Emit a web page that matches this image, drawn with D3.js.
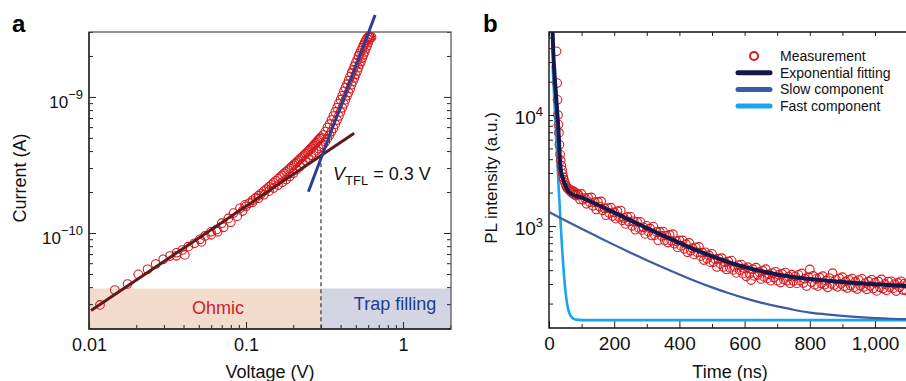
<!DOCTYPE html>
<html>
<head>
<meta charset="utf-8">
<script src="https://cdn.jsdelivr.net/npm/d3@7"></script>
<style>
  body { margin: 0; background: #fff; }
  svg { display: block; font-family: "Liberation Sans", Arial, sans-serif; }
</style>
</head>
<body>
<svg id="chart" width="906" height="381"></svg>
<script>
// ---------- panel a : I-V data (voltage V, current A) ----------
const ivLowBias = [
  [0.01175, 2.96e-11], [0.0146, 3.81e-11], [0.0176, 4.22e-11], [0.0206, 4.97e-11],
  [0.0236, 5.41e-11], [0.0266, 5.92e-11], [0.0297, 6.41e-11], [0.0328, 6.77e-11],
  [0.0362, 7.16e-11], [0.0393, 7.50e-11], [0.0429, 7.94e-11], [0.0469, 8.40e-11],
  [0.0509, 8.99e-11], [0.0548, 9.51e-11], [0.0598, 1.02e-10], [0.065, 1.06e-10],
  [0.07, 1.18e-10], [0.0772, 1.28e-10], [0.0832, 1.40e-10], [0.0915, 1.52e-10],
  [0.0985, 1.61e-10], [0.036, 6.8e-11], [0.0408, 6.9e-11], [0.052, 8.6e-11],
  [0.06, 9.7e-11], [0.066, 1.02e-10], [0.072, 1.10e-10], [0.08, 1.20e-10],
  [0.088, 1.33e-10], [0.095, 1.45e-10]
];
const ivSweepUp = [
  [0.100, 1.57e-10], [0.105, 1.66e-10], [0.110, 1.74e-10], [0.115, 1.81e-10], [0.120, 1.88e-10],
  [0.125, 1.95e-10], [0.130, 2.03e-10], [0.135, 2.10e-10], [0.140, 2.18e-10], [0.145, 2.26e-10],
  [0.150, 2.34e-10], [0.155, 2.42e-10], [0.160, 2.50e-10], [0.165, 2.58e-10], [0.170, 2.66e-10],
  [0.175, 2.74e-10], [0.180, 2.82e-10], [0.185, 2.90e-10], [0.190, 2.98e-10], [0.195, 3.06e-10],
  [0.200, 3.15e-10], [0.205, 3.23e-10], [0.210, 3.31e-10], [0.215, 3.40e-10], [0.220, 3.48e-10],
  [0.225, 3.57e-10], [0.230, 3.66e-10], [0.235, 3.74e-10], [0.240, 3.84e-10], [0.245, 3.93e-10],
  [0.250, 4.01e-10], [0.255, 4.10e-10], [0.260, 4.20e-10], [0.265, 4.30e-10], [0.270, 4.40e-10],
  [0.275, 4.51e-10], [0.280, 4.61e-10], [0.285, 4.72e-10], [0.290, 4.83e-10], [0.295, 4.94e-10],
  [0.300, 5.05e-10], [0.31, 5.25e-10], [0.32, 5.56e-10], [0.33, 5.96e-10], [0.34, 6.31e-10],
  [0.35, 6.76e-10], [0.36, 7.24e-10], [0.37, 7.76e-10], [0.38, 8.32e-10], [0.39, 8.91e-10],
  [0.40, 9.55e-10], [0.41, 1.02e-9], [0.42, 1.10e-9], [0.43, 1.17e-9], [0.44, 1.24e-9],
  [0.45, 1.32e-9], [0.46, 1.41e-9], [0.47, 1.50e-9], [0.48, 1.58e-9], [0.49, 1.68e-9],
  [0.50, 1.78e-9], [0.51, 1.88e-9], [0.52, 2.00e-9], [0.53, 2.09e-9], [0.54, 2.19e-9],
  [0.55, 2.29e-9], [0.56, 2.40e-9], [0.57, 2.51e-9], [0.58, 2.60e-9], [0.59, 2.69e-9],
  [0.60, 2.75e-9], [0.61, 2.79e-9]
];
const ivSweepDown = [
  [0.11, 1.68e-10], [0.12, 1.80e-10], [0.13, 1.91e-10], [0.14, 2.03e-10], [0.15, 2.14e-10],
  [0.16, 2.25e-10], [0.17, 2.36e-10], [0.18, 2.47e-10], [0.19, 2.60e-10], [0.20, 2.75e-10],
  [0.21, 2.92e-10], [0.22, 3.08e-10], [0.23, 3.24e-10], [0.24, 3.40e-10], [0.25, 3.55e-10],
  [0.26, 3.72e-10], [0.27, 3.89e-10], [0.28, 4.03e-10], [0.29, 4.17e-10], [0.30, 4.32e-10],
  [0.31, 4.47e-10], [0.32, 4.68e-10], [0.33, 4.95e-10], [0.34, 5.25e-10], [0.35, 5.56e-10],
  [0.36, 5.89e-10], [0.37, 6.31e-10], [0.38, 6.76e-10], [0.39, 7.24e-10], [0.40, 7.76e-10],
  [0.41, 8.32e-10], [0.42, 8.91e-10], [0.43, 9.55e-10], [0.44, 1.02e-9], [0.45, 1.08e-9],
  [0.46, 1.15e-9], [0.47, 1.23e-9], [0.48, 1.30e-9], [0.49, 1.38e-9], [0.50, 1.46e-9],
  [0.51, 1.55e-9], [0.52, 1.64e-9], [0.53, 1.74e-9], [0.54, 1.82e-9], [0.55, 1.93e-9],
  [0.56, 2.04e-9], [0.57, 2.14e-9], [0.58, 2.26e-9], [0.59, 2.37e-9], [0.60, 2.51e-9],
  [0.61, 2.63e-9], [0.62, 2.72e-9], [0.63, 2.75e-9]
];
const ohmicFit = [[0.0103, 2.69e-11], [0.488, 5.4e-10]];
const trapFit = [[0.2494, 2.01e-10], [0.664, 4.0e-9]];
const vTFL = 0.3, iTFL = 3.67e-10;
const regionTop = 3.91e-11;
const vTicksA = [0.01, 0.1, 1];
const iTicksA = [1e-10, 1e-9];

// ---------- panel b : PL decay (time ns, intensity a.u.) ----------
const plMeasured = [
  [23, 37500], [25, 19400], [26, 13700], [27.5, 10000], [29, 8200], [30.5, 6900], [32, 5400],
  [34, 4400], [36, 3900], [38, 3500], [40, 3200], [42, 2950], [44, 2750], [46, 2600], [49, 2450],
  [52, 2320], [55, 2220], [58, 2160], [62, 2150], [65, 2050], [68, 2100], [71, 1980], [74, 2060],
  [77, 1920], [80, 2010], [83, 1880], [86, 1950],
  [90, 1924], [95, 1735], [100, 1944], [105, 1721], [110, 1783], [115, 1584], [120, 1798], [125, 1637],
  [130, 1808], [135, 1521], [140, 1640], [145, 1409], [150, 1648], [155, 1498], [160, 1664], [165, 1385],
  [170, 1445], [175, 1250], [180, 1450], [185, 1307], [190, 1462], [195, 1228], [200, 1326], [205, 1165],
  [210, 1361], [215, 1203], [220, 1379], [225, 1128], [230, 1180], [235, 1044], [240, 1208], [245, 1098],
  [250, 1210], [255, 1004], [260, 1103], [265, 926], [270, 1092], [275, 962], [280, 1091], [285, 922],
  [290, 975], [295, 849], [300, 1004], [305, 890], [310, 951], [315, 822], [320, 988], [325, 827],
  [330, 884], [335, 744], [340, 884], [345, 814], [350, 891], [355, 744], [360, 821], [365, 709],
  [370, 831], [375, 735], [380, 845], [385, 692], [390, 731], [395, 641], [400, 742], [405, 662],
  [410, 741], [415, 623], [420, 686], [425, 579], [430, 704], [435, 599], [440, 632], [445, 555],
  [450, 642], [455, 578], [460, 648], [465, 535], [470, 575], [475, 493], [480, 580], [485, 507],
  [490, 546], [495, 472], [500, 561], [505, 473], [510, 502], [515, 427], [520, 508], [525, 458],
  [530, 513], [535, 427], [540, 471], [545, 406], [550, 480], [555, 419], [560, 488], [565, 402],
  [570, 428], [575, 378], [580, 445], [585, 400], [590, 449], [595, 372], [600, 416], [605, 353],
  [610, 426], [615, 371], [620, 326], [625, 408], [630, 355], [635, 421], [640, 361], [645, 384],
  [650, 333], [655, 397], [660, 348], [665, 408], [670, 337], [675, 367], [680, 322], [685, 377],
  [690, 343], [695, 387], [700, 322], [705, 363], [710, 309], [715, 370], [720, 330], [725, 381],
  [730, 321], [735, 350], [740, 305], [745, 364], [750, 319], [755, 352], [760, 304], [765, 363],
  [770, 322], [775, 374], [780, 306], [785, 335], [790, 288], [795, 346], [800, 406], [805, 311],
  [810, 355], [815, 296], [820, 334], [825, 288], [830, 342], [835, 303], [840, 353], [845, 295],
  [850, 322], [855, 280], [860, 340], [865, 301], [870, 376], [875, 294], [880, 328], [885, 283],
  [890, 338], [895, 301], [900, 346], [905, 286], [910, 317], [915, 276], [920, 327], [925, 291],
  [930, 336], [935, 280], [940, 315], [945, 270], [950, 326], [955, 289], [960, 334], [965, 282],
  [970, 306], [975, 269], [980, 317], [985, 289], [990, 328], [995, 273], [1000, 309], [1005, 260],
  [1010, 317], [1015, 280], [1020, 330], [1025, 273], [1030, 300], [1035, 264], [1040, 316], [1045, 280],
  [1050, 318], [1055, 274], [1060, 300], [1065, 259], [1070, 307], [1075, 281], [1080, 318], [1085, 266],
  [1090, 303], [1095, 262], [1100, 300]
];
const plFit = [
  [10, 70000], [13, 37500], [17, 23000], [21.5, 15200], [25, 10800], [28.7, 7640], [31, 5600],
  [33.7, 3850], [37, 3100], [42, 2720], [48, 2400], [54, 2190], [64, 1985], [100, 1800], [150, 1545],
  [200, 1320], [250, 1125], [300, 960], [350, 820], [400, 705], [450, 610], [500, 535], [550, 473],
  [600, 427], [650, 392], [700, 366], [750, 347], [800, 333], [850, 322], [900, 313], [950, 305],
  [1000, 299], [1050, 293], [1100, 288]
];
const plSlow = [
  [0, 1337], [50, 1122], [100, 944], [150, 798], [200, 676], [250, 575], [300, 492], [350, 423],
  [400, 366], [450, 318], [500, 280], [550, 249], [600, 224], [650, 204], [700, 189], [750, 176],
  [800, 166], [850, 160], [900, 155], [950, 151], [1000, 148], [1050, 146], [1100, 145]
];
const plFast = [
  [11, 28000], [15, 16100], [20, 8160], [25, 4150], [30, 2140], [35, 1140], [40, 644], [45, 392],
  [50, 267], [55, 204], [60, 173], [65, 158], [70, 150], [80, 144], [90, 143], [100, 142], [1100, 142]
];
const tMajor = [0, 200, 400, 600, 800, 1000];
const tMinor = [100, 300, 500, 700, 900];
const plMajor = [1e3, 1e4];
const legendItems = [
  { label: "Measurement", kind: "circle" },
  { label: "Exponential fitting", kind: "line", color: "#15174b" },
  { label: "Slow component", kind: "line", color: "#3c5ba6" },
  { label: "Fast component", kind: "line", color: "#19a4ee" }
];

const RED = "#d7191f";
const svg = d3.select("#chart");
svg.append("rect").attr("width", 906).attr("height", 381).attr("fill", "#fff");

const isMajor = v => Math.abs(Math.log10(v) - Math.round(Math.log10(v))) < 1e-6;

function styleAxis(g, size) {
  g.select(".domain").remove();
  g.selectAll(".tick line").attr("stroke", "#222").attr("stroke-width", 1);
  g.selectAll("text").attr("fill", "#111").attr("font-size", size)
    .attr("font-family", "Liberation Sans, Arial, sans-serif");
  g.attr("font-family", null);
}

// ================= panel a =================
const xa = d3.scaleLog().domain([0.01, 2.02]).range([89, 451]);
const ya = d3.scaleLog().domain([1.97e-11, 3.0e-9]).range([329, 32]);
const ga = svg.append("g");

ga.append("rect")
  .attr("x", xa(0.01)).attr("y", ya(regionTop))
  .attr("width", xa(vTFL) - xa(0.01)).attr("height", ya.range()[0] - ya(regionTop))
  .attr("fill", "#f4dccc");
ga.append("rect")
  .attr("x", xa(vTFL)).attr("y", ya(regionTop))
  .attr("width", xa.range()[1] - xa(vTFL)).attr("height", ya.range()[0] - ya(regionTop))
  .attr("fill", "#d4d5e3");

ga.append("text").attr("x", 218).attr("y", 314).attr("text-anchor", "middle")
  .attr("font-size", 18).attr("fill", "#d42027").text("Ohmic");
ga.append("text").attr("x", 395).attr("y", 310).attr("text-anchor", "middle")
  .attr("font-size", 18).attr("fill", "#1f3c8c").text("Trap filling");

// axes
const xaAll = xa.ticks();
ga.append("g").attr("transform", `translate(0,${ya.range()[0]})`)
  .call(d3.axisBottom(xa).tickValues(vTicksA).tickSize(-7).tickPadding(9).tickFormat(d3.format("~g")))
  .call(g => styleAxis(g, 18));
ga.append("g").attr("transform", `translate(0,${ya.range()[0]})`)
  .call(d3.axisBottom(xa).tickValues(xaAll.filter(v => !isMajor(v))).tickSize(-4).tickFormat(""))
  .call(g => styleAxis(g, 18));

const yaAll = ya.ticks();
[[d3.axisLeft, xa.range()[0]], [d3.axisRight, xa.range()[1]]].forEach(([ax, xpos], k) => {
  ga.append("g").attr("transform", `translate(${xpos},0)`)
    .call(ax(ya).tickValues(iTicksA).tickSize(-7).tickPadding(6).tickFormat(""))
    .call(g => styleAxis(g, 17))
    .call(g => {
      if (k === 0) {
        g.selectAll(".tick text").attr("dy", 10.5).each(function (d) {
          const t = d3.select(this);
          t.append("tspan").text("10");
          t.append("tspan").attr("dy", -8.5).attr("font-size", 13)
            .text("\u2212" + Math.abs(Math.round(Math.log10(d))));
        });
      }
    });
  ga.append("g").attr("transform", `translate(${xpos},0)`)
    .call(ax(ya).tickValues(yaAll.filter(v => !isMajor(v))).tickSize(-4).tickFormat(""))
    .call(g => styleAxis(g, 17));
});

// frame
ga.append("rect").attr("x", 89).attr("y", 32).attr("width", 362).attr("height", 297)
  .attr("fill", "none").attr("stroke", "#5a5a5a").attr("stroke-width", 1.3);
ga.append("path").attr("d", "M89,32V329H451").attr("fill", "none")
  .attr("stroke", "#222").attr("stroke-width", 1.4);

// dashed V_TFL marker
ga.append("line")
  .attr("x1", xa(vTFL)).attr("x2", xa(vTFL))
  .attr("y1", ya(iTFL)).attr("y2", ya.range()[0])
  .attr("stroke", "#444").attr("stroke-width", 1.3).attr("stroke-dasharray", "4,3");

// data circles
ga.append("g").selectAll("circle")
  .data(ivLowBias.concat(ivSweepDown, ivSweepUp))
  .join("circle")
  .attr("cx", d => xa(d[0])).attr("cy", d => ya(d[1])).attr("r", 4.3)
  .attr("fill", "none").attr("stroke", RED).attr("stroke-width", 1.1);

const lineA = d3.line().x(d => xa(d[0])).y(d => ya(d[1]));
ga.append("path").attr("d", lineA(ohmicFit)).attr("fill", "none")
  .attr("stroke", "#5e1a1d").attr("stroke-width", 3);
ga.append("path").attr("d", lineA(trapFit)).attr("fill", "none")
  .attr("stroke", "#2a3f8f").attr("stroke-width", 3);

// V_TFL label
const vt = ga.append("text").attr("x", 333).attr("y", 180).attr("font-size", 18).attr("fill", "#111");
vt.append("tspan").attr("font-style", "italic").text("V");
vt.append("tspan").attr("dy", 5).attr("font-size", 13).text("TFL");
vt.append("tspan").attr("dy", -5).text(" = 0.3 V");

ga.append("text").attr("x", 270).attr("y", 378).attr("text-anchor", "middle")
  .attr("font-size", 18).attr("fill", "#111").text("Voltage (V)");
ga.append("text").attr("transform", "translate(26,178) rotate(-90)").attr("text-anchor", "middle")
  .attr("font-size", 18).attr("fill", "#111").text("Current (A)");
ga.append("text").attr("x", 12).attr("y", 32).attr("font-size", 24).attr("font-weight", "bold")
  .attr("fill", "#000").text("a");

// ================= panel b =================
const xb = d3.scaleLinear().domain([0, 1100]).range([549, 907.6]);
const yb = d3.scaleLog().domain([120.5, 56000]).range([328, 32]);
const gb = svg.append("g");

svg.append("defs").append("clipPath").attr("id", "clipb")
  .append("rect").attr("x", 549).attr("y", 32).attr("width", 360).attr("height", 296);

gb.append("g").attr("transform", `translate(0,${yb.range()[0]})`)
  .call(d3.axisBottom(xb).tickValues(tMajor).tickSize(-7).tickPadding(9).tickFormat(d3.format(",")))
  .call(g => styleAxis(g, 19));
gb.append("g").attr("transform", `translate(0,${yb.range()[0]})`)
  .call(d3.axisBottom(xb).tickValues(tMinor).tickSize(-4).tickFormat(""))
  .call(g => styleAxis(g, 19));
gb.append("g").attr("transform", `translate(0,${yb.range()[1]})`)
  .call(d3.axisTop(xb).tickValues(tMajor.concat(tMinor)).tickSize(-4).tickFormat(""))
  .call(g => styleAxis(g, 19));

gb.append("g").attr("transform", `translate(${xb.range()[0]},0)`)
  .call(d3.axisLeft(yb).tickValues(plMajor).tickSize(-7).tickPadding(6).tickFormat(""))
  .call(g => styleAxis(g, 19))
  .call(g => g.selectAll(".tick text").attr("dy", 8).each(function (d) {
    const t = d3.select(this);
    t.append("tspan").text("10");
    t.append("tspan").attr("dy", -8).attr("font-size", 13).text(Math.round(Math.log10(d)));
  }));
gb.append("g").attr("transform", `translate(${xb.range()[0]},0)`)
  .call(d3.axisLeft(yb).tickValues(yb.ticks().filter(v => !isMajor(v))).tickSize(-4).tickFormat(""))
  .call(g => styleAxis(g, 19));

gb.append("path").attr("d", "M909,32H549V328H909").attr("fill", "none")
  .attr("stroke", "#111").attr("stroke-width", 1.4);

const plot = gb.append("g").attr("clip-path", "url(#clipb)");
const lineB = d3.line().x(d => xb(d[0])).y(d => yb(d[1])).curve(d3.curveMonotoneX);

plot.append("path").attr("d", lineB(plFast)).attr("fill", "none")
  .attr("stroke", "#19a4ee").attr("stroke-width", 2.6);
plot.append("path").attr("d", lineB(plSlow)).attr("fill", "none")
  .attr("stroke", "#3c5ba6").attr("stroke-width", 2.2);
plot.append("g").selectAll("circle").data(plMeasured).join("circle")
  .attr("cx", d => xb(d[0])).attr("cy", d => yb(d[1])).attr("r", 4.3)
  .attr("fill", "none").attr("stroke", RED).attr("stroke-width", 1.1);
plot.append("path").attr("d", lineB(plFit)).attr("fill", "none")
  .attr("stroke", "#15174b").attr("stroke-width", 4);

// legend
const lg = gb.append("g").attr("transform", "translate(736,56)");
legendItems.forEach((it, i) => {
  const row = lg.append("g").attr("transform", `translate(0,${i * 16.7})`);
  if (it.kind === "circle") {
    row.append("circle").attr("cx", 18).attr("cy", 0).attr("r", 4)
      .attr("fill", "none").attr("stroke", RED).attr("stroke-width", 2);
  } else {
    row.append("line").attr("x1", 2).attr("x2", 34).attr("y1", 0).attr("y2", 0)
      .attr("stroke", it.color).attr("stroke-width", 5).attr("stroke-linecap", "round");
  }
  row.append("text").attr("x", 44).attr("y", 0).attr("dy", "0.36em")
    .attr("font-size", 14).attr("fill", "#111").text(it.label);
});

gb.append("text").attr("x", 730).attr("y", 378).attr("text-anchor", "middle")
  .attr("font-size", 18).attr("fill", "#111").text("Time (ns)");
gb.append("text").attr("transform", "translate(497,178) rotate(-90)").attr("text-anchor", "middle")
  .attr("font-size", 17).attr("fill", "#111").text("PL intensity (a.u.)");
gb.append("text").attr("x", 483).attr("y", 32).attr("font-size", 24).attr("font-weight", "bold")
  .attr("fill", "#000").text("b");
</script>
</body>
</html>
